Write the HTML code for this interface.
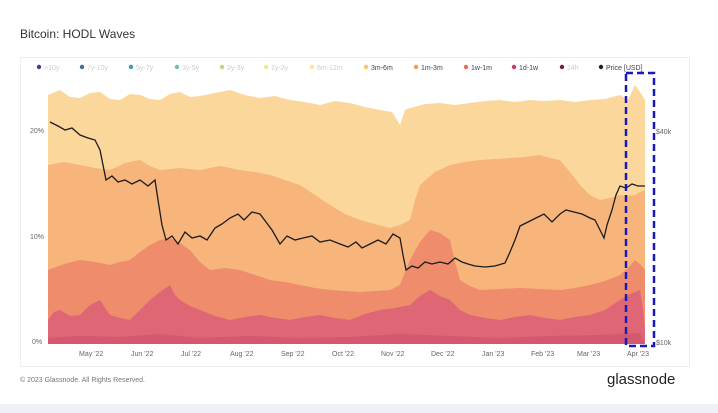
<!DOCTYPE html><html><head><meta charset="utf-8"><style>
body{margin:0;width:718px;height:413px;background:#fff;font-family:"Liberation Sans",sans-serif;overflow:hidden;position:relative}
.t{position:absolute;left:20px;top:27px;font-size:12px;color:#333}
.box{position:absolute;left:20px;top:57px;width:668px;height:308px;border:1px solid #eee}
.leg{position:absolute;top:63px;font-size:7px;color:#ddd;white-space:nowrap}
.leg span{margin-right:0}
.foot{position:absolute;left:20px;top:377px;font-size:7px;color:#777}
.logo{position:absolute;left:607px;top:371px;font-size:15px;color:#222}
.bar{position:absolute;left:0;top:404px;width:718px;height:9px;background:#eef1f6}
</style></head><body>
<div class="t">Bitcoin: HODL Waves</div>
<div class="box"></div>
<svg width="718" height="413" style="position:absolute;left:0;top:0">
<g font-size="7" font-family="Liberation Sans">
<circle cx="39" cy="67" r="2.2" fill="#4b3a8c"/><text x="44" y="70" fill="#ccc">&gt;10y</text>
<circle cx="82" cy="67" r="2.2" fill="#3a6e9c"/><text x="87" y="70" fill="#ccc">7y-10y</text>
<circle cx="131" cy="67" r="2.2" fill="#3aa0a0"/><text x="136" y="70" fill="#ccc">5y-7y</text>
<circle cx="177" cy="67" r="2.2" fill="#6ec0a0"/><text x="182" y="70" fill="#ccc">3y-5y</text>
<circle cx="222" cy="67" r="2.2" fill="#b8d880"/><text x="227" y="70" fill="#ccc">2y-3y</text>
<circle cx="266" cy="67" r="2.2" fill="#eee890"/><text x="271" y="70" fill="#ccc">1y-2y</text>
<circle cx="312" cy="67" r="2.2" fill="#fbe6a0"/><text x="317" y="70" fill="#ccc">6m-12m</text>
<circle cx="366" cy="67" r="2.2" fill="#f8c46a"/><text x="371" y="70" fill="#444">3m-6m</text>
<circle cx="416" cy="67" r="2.2" fill="#f19a50"/><text x="421" y="70" fill="#444">1m-3m</text>
<circle cx="466" cy="67" r="2.2" fill="#e56a50"/><text x="471" y="70" fill="#444">1w-1m</text>
<circle cx="514" cy="67" r="2.2" fill="#c83a60"/><text x="519" y="70" fill="#444">1d-1w</text>
<circle cx="562" cy="67" r="2.2" fill="#7a1840"/><text x="567" y="70" fill="#ccc">24h</text>
<circle cx="601" cy="67" r="2.2" fill="#222"/><text x="606" y="70" fill="#444">Price [USD]</text>
</g>
<polygon fill="#fcd79c" points="48,344 48,95 60,90 70,97 80,98 90,93 100,92 110,99 120,100 130,94 140,95 150,99 160,100 170,94 180,92 190,97 200,96 215,93 230,90 245,95 260,98 275,96 290,100 305,102 320,105 335,101 350,103 365,107 380,110 392,112 400,125 405,110 410,108 425,104 440,103 455,105 470,103 485,101 500,100 515,102 530,100 545,101 560,100 575,102 590,100 605,99 620,95 628,100 635,85 640,92 645,100 645,344"/>
<polygon fill="#f7b57c" points="48,344 48,165 64,162 80,165 95,168 110,170 125,163 140,160 150,166 160,170 180,168 200,170 220,166 240,170 255,172 270,175 285,180 300,185 315,195 330,205 345,214 360,220 375,224 390,228 400,225 410,220 415,200 420,185 435,172 450,165 465,162 480,160 495,159 510,158 525,157 540,155 550,158 560,160 570,172 580,185 590,195 600,200 610,198 620,195 628,196 635,195 640,192 645,190 645,344"/>
<polygon fill="#ee8c6c" points="48,344 48,270 64,264 80,260 95,262 110,265 120,262 130,260 140,252 150,245 160,240 170,238 180,243 190,250 200,262 210,270 225,268 240,270 255,275 270,280 285,282 300,285 315,288 330,290 345,291 360,292 375,291 390,290 400,285 405,272 410,260 420,242 430,230 440,233 450,240 455,262 460,280 470,286 480,290 500,289 520,288 540,289 560,290 575,288 590,285 605,281 620,275 628,268 635,260 640,264 645,270 645,344"/>
<polygon fill="#de6675" points="48,344 48,320 54,312 60,310 70,316 80,315 90,305 100,300 105,308 110,315 120,318 130,320 140,310 150,300 160,292 170,285 175,295 180,300 190,306 200,310 215,316 230,320 245,317 260,315 275,318 290,320 305,317 320,315 335,318 350,320 365,314 380,310 395,308 410,305 420,296 430,290 440,296 450,300 460,310 470,315 485,318 500,320 515,317 530,315 545,318 560,320 575,317 590,315 605,310 620,300 630,294 640,290 643,310 645,330 645,344"/>
<polygon fill="#cc4e6c" opacity="0.6" points="48,344 48,338 80,336 120,337 160,334 200,338 250,336 300,338 350,337 400,334 450,336 500,338 550,336 600,335 640,333 645,344"/>
<polyline fill="none" stroke="#1c1c1c" stroke-width="1.3" points="50,122 58,126 65,130 72,128 80,135 88,138 95,140 100,150 103,165 106,180 112,176 118,182 125,180 132,184 140,180 148,186 155,180 158,200 162,225 166,240 172,236 178,244 185,232 192,238 200,236 207,240 215,228 222,224 230,218 238,214 244,220 252,212 260,214 266,222 272,230 280,244 287,236 295,240 303,238 312,236 320,242 330,240 340,244 348,247 356,242 362,248 370,244 378,240 386,244 393,234 400,238 403,255 406,270 412,266 418,268 425,262 432,264 440,262 448,264 455,258 462,262 468,264 475,266 485,267 495,266 505,263 510,252 515,240 520,226 528,222 536,218 544,214 552,222 560,214 566,210 574,212 582,214 590,218 595,220 600,230 604,238 607,225 612,210 616,195 620,186 626,188 632,184 638,186 645,186"/>
<g font-size="7" fill="#666" font-family="Liberation Sans">
<text x="30" y="133">20%</text><text x="30" y="239">10%</text><text x="32" y="344">0%</text>
<text x="656" y="134">$40k</text><text x="656" y="345">$10k</text>
<text x="79" y="356">May '22</text><text x="131" y="356">Jun '22</text><text x="181" y="356">Jul '22</text><text x="230" y="356">Aug '22</text><text x="281" y="356">Sep '22</text><text x="332" y="356">Oct '22</text><text x="381" y="356">Nov '22</text><text x="431" y="356">Dec '22</text><text x="482" y="356">Jan '23</text><text x="531" y="356">Feb '23</text><text x="577" y="356">Mar '23</text><text x="627" y="356">Apr '23</text>
</g>
<path d="M626,73 H654 V346 H626 Z" fill="none" stroke="#1a1ab8" stroke-width="2.5" stroke-dasharray="7,4"/>
</svg>
<div class="foot">© 2023 Glassnode. All Rights Reserved.</div>
<div class="logo">glassnode</div>
<div class="bar"></div>
</body></html>
